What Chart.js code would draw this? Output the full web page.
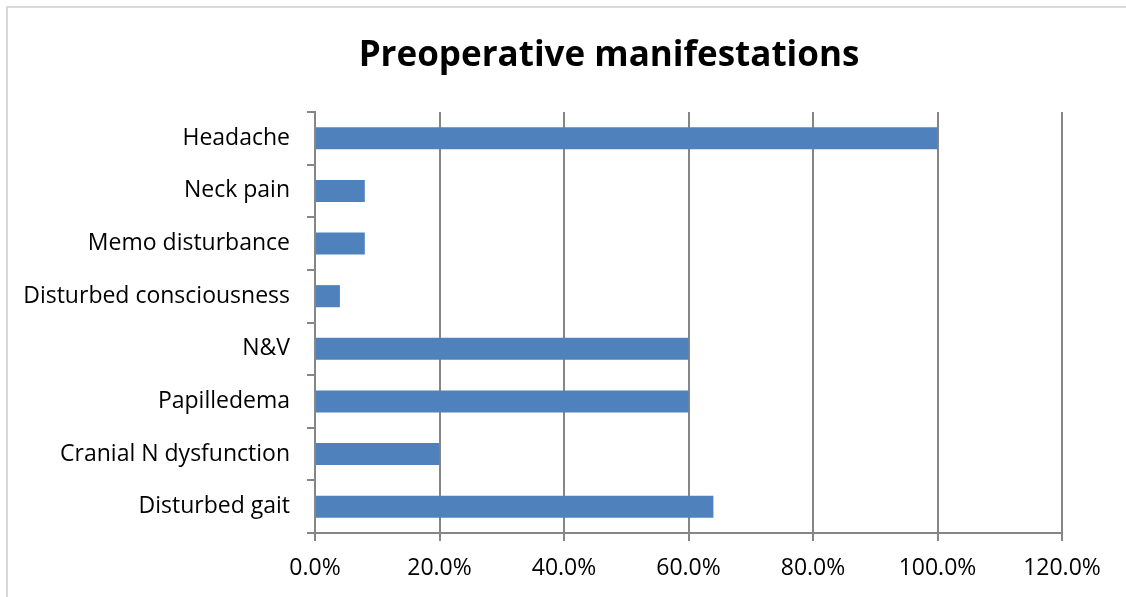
<!DOCTYPE html>
<html lang="en">
<head>
    <meta charset="UTF-8">
    <title>Preoperative manifestations</title>
    <script src="https://cdn.jsdelivr.net/npm/chart.js"></script>
    <style>
        html, body { margin: 0; padding: 0; background: #fff; }
        .frame {
            position: absolute; left: 6px; top: 6px; width: 1120px; height: 591px;
            border-top: 2px solid #d9d9d9; border-left: 2px solid #d9d9d9;
        }
        .chart-box { position: absolute; left: 0; top: 0; width: 1126px; height: 597px; }
    </style>
</head>
<body>
    <div class="frame"></div>
    <div class="chart-box">
        <canvas id="manifestChart"></canvas>
    </div>

    <script>
        // Données
        var categories = ['Headache', 'Neck pain', 'Memo disturbance', 'Disturbed consciousness',
                          'N&V', 'Papilledema', 'Cranial N dysfunction', 'Disturbed gait'];
        var percentages = [100, 8, 8, 4, 60, 60, 20, 64];
        var xTicks = [0, 20, 40, 60, 80, 100, 120];
        var chartTitle = 'Preoperative manifestations';

        var axisGray = '#868686';
        var fontFamily = '"Open Sans", "Liberation Sans", sans-serif';

        // Titre dessiné à la main : dans l'original il n'est centré ni sur le canvas ni sur la zone du graphique
        var titlePlugin = {
            id: 'offsetTitle',
            afterDraw: function (c) {
                var ctx = c.ctx;
                ctx.save();
                ctx.font = 'bold 35px ' + fontFamily;
                ctx.fillStyle = '#000';
                ctx.textAlign = 'center';
                ctx.textBaseline = 'middle';
                ctx.fillText(chartTitle, 609, 56);
                ctx.restore();
            }
        };

        var chart = new Chart(document.getElementById('manifestChart'), {
            type: 'bar',
            data: {
                labels: categories,
                datasets: [{
                    data: percentages,
                    backgroundColor: '#4f81bd',
                    barPercentage: 0.42,
                    categoryPercentage: 1
                }]
            },
            options: {
                indexAxis: 'y',
                responsive: true,
                maintainAspectRatio: false,
                animation: false,
                layout: { padding: { left: 0, right: 64, top: 112, bottom: 0 } },
                plugins: {
                    legend: { display: false },
                    tooltip: { enabled: false },
                    title: { display: false }
                },
                scales: {
                    x: {
                        min: 0,
                        max: 120,
                        afterBuildTicks: function (s) {
                            s.ticks = xTicks.map(function (v) { return { value: v }; });
                        },
                        afterFit: function (s) { s.height = 64; },
                        grid: { color: axisGray, lineWidth: 2, tickLength: 8 },
                        border: { color: axisGray, width: 2 },
                        ticks: {
                            color: '#000',
                            padding: 14,
                            maxRotation: 0,
                            font: { family: fontFamily, size: 23 },
                            callback: function (v) { return v.toFixed(1) + '%'; }
                        }
                    },
                    y: {
                        afterFit: function (s) { s.width = 315; },
                        grid: { drawOnChartArea: false, offset: true, color: axisGray, lineWidth: 2, tickLength: 8 },
                        border: { color: axisGray, width: 2 },
                        ticks: {
                            color: '#000',
                            padding: 17,
                            font: { family: fontFamily, size: 23 }
                        }
                    }
                }
            },
            plugins: [titlePlugin]
        });
    </script>
</body>
</html>
